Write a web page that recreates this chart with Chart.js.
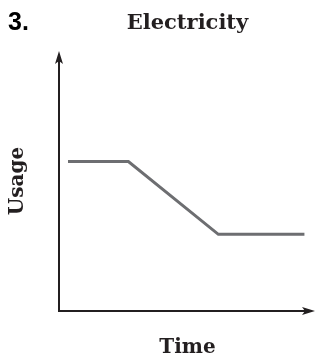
<!DOCTYPE html>
<html>
<head>
<meta charset="utf-8">
<script src="https://cdn.jsdelivr.net/npm/chart.js@4"></script>
<style>
  html, body { margin: 0; padding: 0; background: #fff; }
  #chart { display: block; }
</style>
</head>
<body>
<canvas id="chart" width="316" height="360"></canvas>
<script>
// values (axes have no ticks, 0..10 on both)
const timeValues = [0.35, 2.7, 6.2, 9.55];
const usageValues = [5.75, 5.75, 2.95, 2.95];
const chartTitle = "Electricity";
const questionLabel = "3.";
const xLabel = "Time";
const yLabel = "Usage";

const axisColor = "#231f20";
const serif = "'DejaVu Serif', serif";

// axis lines with arrow heads + the question number
const axesPlugin = {
  id: "axesArrows",
  afterDatasetsDraw(chart) {
    const { ctx, chartArea } = chart;
    const left = chartArea.left;
    const bottom = chartArea.bottom;
    const top = chartArea.top;
    const right = chartArea.right - 1;

    ctx.save();
    ctx.strokeStyle = axisColor;
    ctx.fillStyle = axisColor;
    ctx.lineWidth = 2;
    ctx.beginPath();
    ctx.moveTo(left, top + 6);
    ctx.lineTo(left, bottom);
    ctx.lineTo(right - 6, bottom);
    ctx.stroke();

    // up arrow
    ctx.beginPath();
    ctx.moveTo(left, top);
    ctx.lineTo(left + 4, top + 13);
    ctx.lineTo(left, top + 10);
    ctx.lineTo(left - 4, top + 13);
    ctx.closePath();
    ctx.fill();

    // right arrow
    ctx.beginPath();
    ctx.moveTo(right, bottom);
    ctx.lineTo(right - 13, bottom - 4);
    ctx.lineTo(right - 10, bottom);
    ctx.lineTo(right - 13, bottom + 4);
    ctx.closePath();
    ctx.fill();

    ctx.font = "bold 25px 'Liberation Sans', Arial, sans-serif";
    ctx.textBaseline = "alphabetic";
    ctx.textAlign = "left";
    ctx.fillStyle = "#000";
    ctx.fillText(questionLabel, 8, 30);
    ctx.restore();
  },
};

const points = timeValues.map((t, i) => ({ x: t, y: usageValues[i] }));

new Chart(document.getElementById("chart"), {
  type: "line",
  data: {
    datasets: [
      {
        data: points,
        borderColor: "#6d6e71",
        borderWidth: 3,
        borderCapStyle: "butt",
        borderJoinStyle: "miter",
        pointRadius: 0,
        tension: 0,
        fill: false,
      },
    ],
  },
  options: {
    responsive: false,
    animation: false,
    devicePixelRatio: 1,
    layout: { padding: 0 },
    plugins: {
      legend: { display: false },
      tooltip: { enabled: false },
      title: {
        display: true,
        text: chartTitle,
        fullSize: false,
        color: axisColor,
        font: { family: serif, size: 21, weight: "bold", lineHeight: 1.2 },
        padding: { top: 10.6, bottom: 15.2 },
      },
    },
    scales: {
      x: {
        type: "linear",
        min: 0,
        max: 10,
        grid: { display: false, drawTicks: false },
        border: { display: false },
        ticks: { display: false },
        title: {
          display: true,
          text: xLabel,
          color: axisColor,
          font: { family: serif, size: 20, weight: "bold", lineHeight: 1.2 },
          padding: { top: 24.7, bottom: 0.3 },
        },
      },
      y: {
        type: "linear",
        min: 0,
        max: 10,
        grid: { display: false, drawTicks: false },
        border: { display: false },
        ticks: { display: false },
        title: {
          display: true,
          text: yLabel,
          color: axisColor,
          font: { family: serif, size: 20, weight: "bold", lineHeight: 1.2 },
          padding: { top: 6, bottom: 29 },
        },
      },
    },
  },
  plugins: [axesPlugin],
});
</script>
</body>
</html>
